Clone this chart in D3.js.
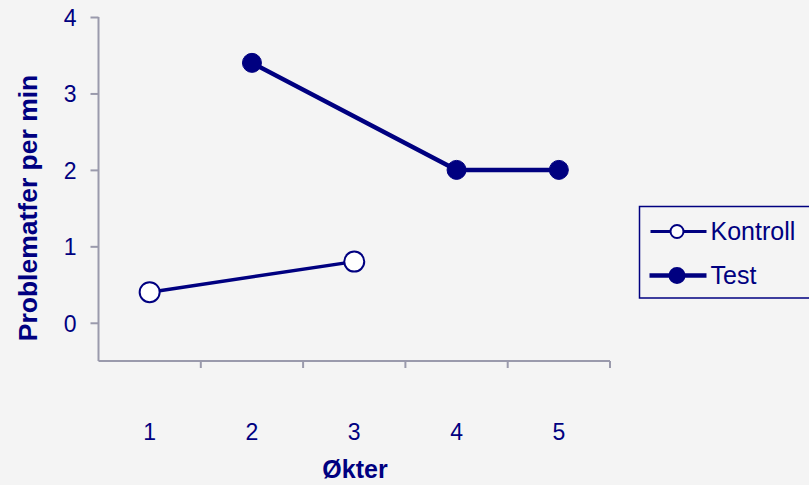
<!DOCTYPE html>
<meta charset="utf-8">
<script src="https://d3js.org/d3.v7.min.js"></script>
<style>
  body { margin: 0; background: #f4f4f4; }
  svg { display: block; font-family: "Liberation Sans", Arial, sans-serif; }
</style>
<div id="chart"></div>
<script>
  // sessions and values
  const sessions = [1, 2, 3, 4, 5];
  const yTicks = [0, 1, 2, 3, 4];
  const kontroll = [{s: 1, v: 0.4}, {s: 3, v: 0.8}];
  const test = [{s: 2, v: 3.4}, {s: 4, v: 2.0}, {s: 5, v: 2.0}];
  const seriesNames = ["Kontroll", "Test"];

  const W = 809, H = 485;
  const navy = "#000080", axisCol = "#9a9aac";
  const font = "Liberation Sans, Arial, sans-serif";

  const svg = d3.select("#chart").append("svg")
    .attr("width", W).attr("height", H);

  svg.append("rect").attr("width", W).attr("height", H).attr("fill", "#f4f4f4");

  const x = d3.scaleBand().domain(sessions).range([98.5, 610]);
  const y = d3.scaleLinear().domain([-0.5, 4]).range([361, 17]);

  // y axis
  const yAxis = svg.append("g")
    .attr("transform", "translate(98.5,0)")
    .call(d3.axisLeft(y).tickValues(yTicks).tickFormat(d3.format("d"))
      .tickSize(8).tickSizeOuter(0).tickPadding(14));
  yAxis.select(".domain").attr("d", `M0,${y(4)}V${y(-0.5)}`);
  yAxis.selectAll("path, line").attr("stroke", axisCol).attr("stroke-width", 2);
  yAxis.selectAll("text").attr("fill", navy).attr("dy", "0.36em")
    .style("font-size", "23px").style("font-family", font);

  // x axis: ticks at band edges, labels at centres
  const xAxisG = svg.append("g").attr("transform", `translate(0,${y(-0.5)})`);
  xAxisG.append("path")
    .attr("d", `M${x(1)},0H${x(5) + x.bandwidth()}`)
    .attr("stroke", axisCol).attr("stroke-width", 2).attr("fill", "none");
  xAxisG.selectAll(".xt").data(sessions)
    .join("line").attr("class", "xt")
    .attr("x1", d => x(d) + x.bandwidth()).attr("x2", d => x(d) + x.bandwidth())
    .attr("y1", 0).attr("y2", 7)
    .attr("stroke", axisCol).attr("stroke-width", 2);
  svg.selectAll(".xl").data(sessions)
    .join("text").attr("class", "xl")
    .attr("x", d => x(d) + x.bandwidth() / 2)
    .attr("y", 440)
    .attr("text-anchor", "middle")
    .attr("fill", navy).style("font-size", "23px")
    .text(d => d);

  // axis titles
  svg.append("text")
    .attr("x", 355).attr("y", 478)
    .attr("text-anchor", "middle")
    .attr("fill", navy).style("font-size", "25px").style("font-weight", "bold")
    .text("Økter");
  svg.append("text")
    .attr("transform", "translate(37,208) rotate(-90)")
    .attr("text-anchor", "middle")
    .attr("fill", navy).style("font-size", "26.5px").style("font-weight", "bold")
    .text("Problematfer per min");

  const cx = d => x(d.s) + x.bandwidth() / 2;
  const line = d3.line().x(cx).y(d => y(d.v));

  // Kontroll
  svg.append("path").datum(kontroll)
    .attr("d", line).attr("fill", "none")
    .attr("stroke", navy).attr("stroke-width", 3.5);
  svg.selectAll(".k").data(kontroll).join("circle").attr("class", "k")
    .attr("cx", cx).attr("cy", d => y(d.v)).attr("r", 10)
    .attr("fill", "#ffffff").attr("stroke", navy).attr("stroke-width", 2);

  // Test
  svg.append("path").datum(test)
    .attr("d", line).attr("fill", "none")
    .attr("stroke", navy).attr("stroke-width", 4.5);
  svg.selectAll(".t").data(test).join("circle").attr("class", "t")
    .attr("cx", cx).attr("cy", d => y(d.v)).attr("r", 9.5)
    .attr("fill", navy).attr("stroke", navy).attr("stroke-width", 1);

  // legend
  const lg = svg.append("g").attr("transform", "translate(639.5,206.5)");
  lg.append("rect").attr("width", 180).attr("height", 91.5)
    .attr("fill", "#f4f4f4").attr("stroke", navy).attr("stroke-width", 1.5);
  const items = lg.selectAll(".li").data(seriesNames).join("g").attr("class", "li")
    .attr("transform", (d, i) => `translate(0,${25 + i * 44})`);
  items.append("line").attr("x1", (d, i) => i ? 10 : 11).attr("x2", 67).attr("y1", 0).attr("y2", 0)
    .attr("stroke", navy).attr("stroke-width", (d, i) => i ? 4.5 : 3);
  items.append("circle").attr("cx", (d, i) => i ? 37.5 : 37.5).attr("cy", 0)
    .attr("r", (d, i) => i ? 7.5 : 6.5)
    .attr("fill", (d, i) => i ? navy : "#ffffff")
    .attr("stroke", navy).attr("stroke-width", 2);
  items.append("text").attr("x", 71).attr("y", 8)
    .attr("fill", navy).style("font-size", "25px")
    .text(d => d);
</script>
